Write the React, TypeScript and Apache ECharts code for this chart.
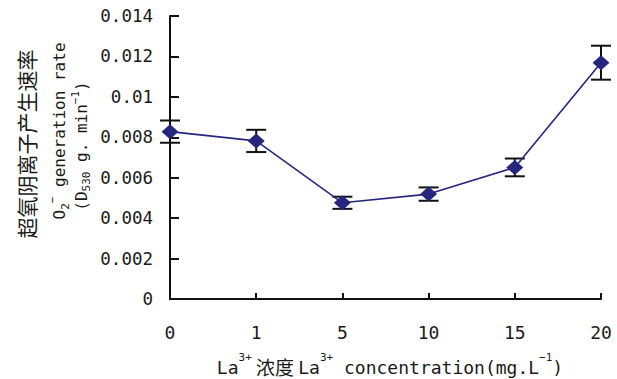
import React, { useEffect, useRef } from "react";
import * as echarts from "echarts";

const categories = ["0", "1", "5", "10", "15", "20"];
const rates = [0.00828, 0.00782, 0.00476, 0.00519, 0.00651, 0.01169];
const errors = [0.00055, 0.00055, 0.0003, 0.00033, 0.00044, 0.00084];
const yTicks = { min: 0, max: 0.014, interval: 0.002 };

const MONO = "'DejaVu Sans Mono', 'Noto Sans CJK SC', monospace";
const CJK = "'Noto Sans CJK SC', sans-serif";
const TXT = "#1a1a1a";
const NAVY = "#26267f";

export default function App() {
  const ref = useRef<HTMLDivElement>(null);
  useEffect(() => {
    if (!ref.current) return;
    const chart = echarts.init(ref.current, null, { renderer: "svg" });
    const errData = rates.map((v, i) => [i, v, errors[i]]);
    chart.setOption({
      animation: false,
      backgroundColor: "#ffffff",
      grid: { left: 170, right: 16, top: 16, bottom: 80, containLabel: false },
      xAxis: {
        type: "category",
        data: categories,
        boundaryGap: false,
        axisLine: { lineStyle: { color: "#111", width: 2 } },
        axisTick: { inside: true, length: 6, lineStyle: { color: "#111", width: 2 } },
        axisLabel: { margin: 24, color: TXT, fontSize: 18, fontFamily: MONO },
        splitLine: { show: false },
      },
      yAxis: {
        type: "value",
        min: yTicks.min,
        max: yTicks.max,
        interval: yTicks.interval,
        axisLine: { show: true, lineStyle: { color: "#111", width: 2 } },
        axisTick: { show: true, inside: true, length: 9, lineStyle: { color: "#111", width: 2 } },
        axisLabel: { margin: 17, color: TXT, fontSize: 17.5, fontFamily: MONO },
        splitLine: { show: false },
      },
      graphic: [
        {
          type: "text",
          x: 390,
          y: 364,
          style: {
            text: "{a|La}{sup|3+}{c| 浓度 }{a|La}{sup|3+}{a| concentration(mg.L}{sup|−1}{a|)}",
            align: "center",
            verticalAlign: "middle",
            fill: TXT,
            rich: {
              a: { fontSize: 18, fontFamily: MONO, fill: TXT, lineHeight: 24, verticalAlign: "bottom" },
              c: { fontSize: 19, fontFamily: CJK, fill: TXT, lineHeight: 24, verticalAlign: "bottom" },
              sup: { fontSize: 11, fontFamily: MONO, fill: TXT, lineHeight: 24, verticalAlign: "top" },
            },
          },
        },
        {
          type: "text",
          x: 26,
          y: 144,
          rotation: Math.PI / 2,
          style: {
            text: "超氧阴离子产生速率",
            align: "center",
            verticalAlign: "middle",
            fontSize: 21,
            fontFamily: CJK,
            fill: TXT,
          },
        },
        {
          type: "text",
          x: 59,
          y: 131,
          rotation: Math.PI / 2,
          style: {
            text: "{a|O}{sub|2}{sup|−}{a| generation rate}",
            align: "center",
            verticalAlign: "middle",
            fill: TXT,
            rich: {
              a: { fontSize: 16, fontFamily: MONO, fill: TXT, lineHeight: 24, verticalAlign: "middle" },
              sub: { fontSize: 11, fontFamily: MONO, fill: TXT, lineHeight: 24, verticalAlign: "bottom" },
              sup: { fontSize: 11, fontFamily: MONO, fill: TXT, lineHeight: 24, verticalAlign: "top" },
            },
          },
        },
        {
          type: "text",
          x: 81,
          y: 146,
          rotation: Math.PI / 2,
          style: {
            text: "{a|(D}{sub|530}{a| g. min}{sup|−1}{a|)}",
            align: "center",
            verticalAlign: "middle",
            fill: TXT,
            rich: {
              a: { fontSize: 16, fontFamily: MONO, fill: TXT, lineHeight: 22, verticalAlign: "middle" },
              sub: { fontSize: 11, fontFamily: MONO, fill: TXT, lineHeight: 22, verticalAlign: "bottom" },
              sup: { fontSize: 11, fontFamily: MONO, fill: TXT, lineHeight: 22, verticalAlign: "top" },
            },
          },
        },
      ],
      series: [
        {
          type: "custom",
          name: "error",
          clip: false,
          z: 2,
          encode: { x: 0, y: 1 },
          data: errData,
          renderItem: (params: any, api: any) => {
            const i = api.value(0);
            const v = api.value(1);
            const e = api.value(2);
            const hi = api.coord([i, v + e]);
            const lo = api.coord([i, v - e]);
            const hw = 10;
            const st = { stroke: "#111", lineWidth: 2 };
            return {
              type: "group",
              children: [
                { type: "line", shape: { x1: hi[0], y1: hi[1], x2: lo[0], y2: lo[1] }, style: st },
                { type: "line", shape: { x1: hi[0] - hw, y1: hi[1], x2: hi[0] + hw, y2: hi[1] }, style: st },
                { type: "line", shape: { x1: lo[0] - hw, y1: lo[1], x2: lo[0] + hw, y2: lo[1] }, style: st },
              ],
            };
          },
        },
        {
          type: "line",
          name: "rate",
          data: rates,
          z: 3,
          symbol: "diamond",
          symbolSize: [17, 15],
          showSymbol: true,
          itemStyle: { color: NAVY },
          lineStyle: { color: NAVY, width: 1.6 },
        },
      ],
    });
    return () => chart.dispose();
  }, []);
  return <div ref={ref} style={{ width: 617, height: 379, position: "absolute", left: 0, top: 0 }} />;
}
